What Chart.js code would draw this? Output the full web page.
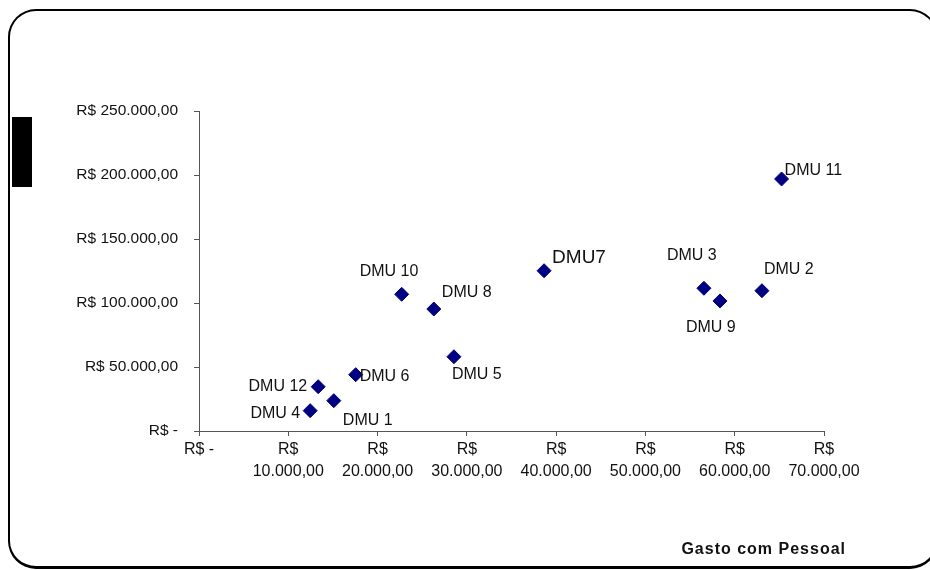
<!DOCTYPE html>
<html>
<head>
<meta charset="utf-8">
<script src="https://cdn.jsdelivr.net/npm/chart.js@4"></script>
<style>
  body { margin: 0; background: #fff; }
  #wrap { position: relative; width: 930px; height: 570px; overflow: hidden; }
  #moldura {
    position: absolute; left: 8px; top: 9px; width: 926px; height: 555px;
    border: 2px solid #000; border-bottom-width: 3px; border-radius: 28px;
  }
  #marca { position: absolute; left: 12px; top: 117px; width: 20px; height: 70px; background: #000; }
  canvas { position: absolute; left: 0; top: 0; }
</style>
</head>
<body>
<div id="wrap">
  <div id="moldura"></div>
  <div id="marca"></div>
  <canvas id="grafico" width="930" height="570"></canvas>
</div>
<script>
/* ===================== DADOS ===================== */
const dmus = ["DMU 1", "DMU 2", "DMU 3", "DMU 4", "DMU 5", "DMU 6",
  "DMU7", "DMU 8", "DMU 9", "DMU 10", "DMU 11", "DMU 12"];
const gastoPessoal = [15100, 63050, 56550, 12450, 28550, 17550,
  38650, 26300, 58350, 22700, 65250, 13350];
const valorY = [23700, 109600, 111500, 15900, 58000, 44000,
  125200, 95300, 101600, 106800, 196900, 34600];
const ticksX = [0, 10000, 20000, 30000, 40000, 50000, 60000, 70000];
const ticksY = [0, 50000, 100000, 150000, 200000, 250000];

/* deslocamento dos rotulos [dx, dy, alinhamento] */
const posRotulos = [
  [9, 20, "left"], [2, -21, "left"], [-37, -33, "left"], [-10, 3, "right"],
  [-2, 18, "left"], [4, 2, "left"], [8, -13, "left"], [8, -16, "left"],
  [-34, 27, "left"], [-42, -23, "left"], [3, -8, "left"], [-11, 0, "right"],
];

/* ===================== UTIL ===================== */
function moeda(v) {
  if (v === 0) return "R$ -";
  return "R$ " + v.toLocaleString("pt-BR", { minimumFractionDigits: 2 });
}

const rotulos = {
  id: "rotulos",
  afterDatasetsDraw(chart) {
    const ctx = chart.ctx;
    const meta = chart.getDatasetMeta(0);
    ctx.save();
    ctx.fillStyle = "#111";
    ctx.textBaseline = "middle";
    meta.data.forEach((p, i) => {
      const [dx, dy, al] = posRotulos[i];
      ctx.font = dmus[i] === "DMU7" ? "19px 'Liberation Sans'" : "16px 'Liberation Sans'";
      ctx.textAlign = al;
      ctx.fillText(dmus[i], p.x + dx, p.y + dy);
    });
    // titulo do eixo x
    ctx.font = "bold 16px 'Liberation Sans'";
    ctx.letterSpacing = "1px";
    ctx.textAlign = "right";
    ctx.fillText("Gasto com Pessoal", chart.chartArea.right + 22, 550);
    ctx.restore();
  },
};

/* ===================== GRAFICO ===================== */
new Chart(document.getElementById("grafico"), {
  type: "scatter",
  data: {
    datasets: [
      {
        data: gastoPessoal.map((x, i) => ({ x: x, y: valorY[i] })),
        pointStyle: "rectRot",
        pointRadius: 7,
        backgroundColor: "#000080",
        borderColor: "#000080",
      },
    ],
  },
  plugins: [rotulos],
  options: {
    responsive: false,
    animation: false,
    layout: { padding: { top: 111, right: 106, left: 0, bottom: 0 } },
    plugins: { legend: { display: false }, tooltip: { enabled: false } },
    scales: {
      x: {
        type: "linear",
        min: 0,
        max: 70000,
        afterBuildTicks: (s) => { s.ticks = ticksX.map((v) => ({ value: v })); },
        afterFit: (s) => { s.height = 139; },
        grid: { drawOnChartArea: false, tickLength: 5, color: "#555" },
        border: { color: "#555" },
        ticks: {
          maxRotation: 0,
          autoSkip: false,
          padding: 3,
          color: "#111",
          font: { family: "'Liberation Sans'", size: 16, lineHeight: 1.35 },
          callback: (v) => (v === 0 ? "R$ -" : ["R$", moeda(v).slice(3)]),
        },
      },
      y: {
        min: 0,
        max: 250000,
        afterBuildTicks: (s) => { s.ticks = ticksY.map((v) => ({ value: v })); },
        afterFit: (s) => { s.width = 199; },
        grid: { drawOnChartArea: false, tickLength: 5, color: "#555" },
        border: { color: "#555" },
        ticks: {
          padding: 16,
          color: "#111",
          font: { family: "'Liberation Sans'", size: 15.5 },
          callback: (v) => moeda(v),
        },
      },
    },
  },
});
</script>
</body>
</html>
